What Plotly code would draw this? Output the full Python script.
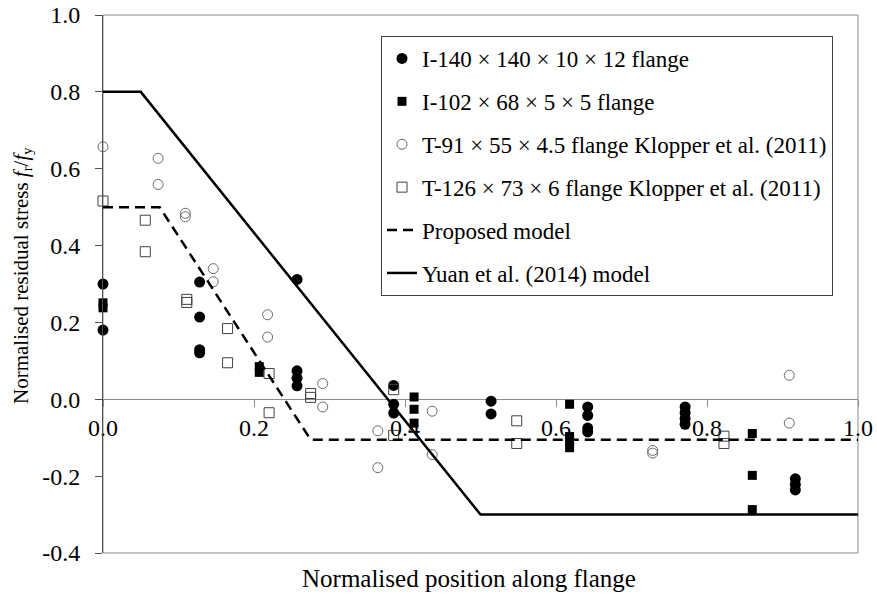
import plotly.graph_objects as go

# Measured residual stresses (normalised position, f_r/f_y)
i140_x = [0, 0, 0.128, 0.128, 0.128, 0.128, 0.257, 0.257, 0.257, 0.257,
          0.385, 0.385, 0.385, 0.514, 0.514, 0.642, 0.642, 0.642, 0.642,
          0.771, 0.771, 0.771, 0.771, 0.917, 0.917, 0.917]
i140_y = [0.30, 0.18, 0.305, 0.214, 0.129, 0.121, 0.312, 0.074, 0.055, 0.035,
          0.036, -0.013, -0.036, -0.005, -0.038, -0.02, -0.042, -0.075, -0.085,
          -0.02, -0.035, -0.05, -0.065, -0.207, -0.222, -0.236]

i102_x = [0, 0, 0.207, 0.207, 0.412, 0.412, 0.412, 0.618, 0.618, 0.618, 0.618,
          0.86, 0.86, 0.86]
i102_y = [0.251, 0.238, 0.085, 0.07, 0.006, -0.026, -0.062, -0.013, -0.097,
          -0.11, -0.126, -0.089, -0.198, -0.287]

t91_x = [0, 0.073, 0.073, 0.109, 0.109, 0.146, 0.146, 0.218, 0.218, 0.291,
         0.291, 0.364, 0.364, 0.436, 0.436, 0.728, 0.728, 0.909, 0.909]
t91_y = [0.657, 0.627, 0.559, 0.484, 0.475, 0.340, 0.306, 0.22, 0.162, 0.041,
         -0.02, -0.082, -0.178, -0.031, -0.144, -0.133, -0.14, 0.0625, -0.062]

t126_x = [0, 0.056, 0.056, 0.111, 0.111, 0.165, 0.165, 0.22, 0.22, 0.275,
          0.275, 0.385, 0.385, 0.548, 0.548, 0.8225, 0.8225]
t126_y = [0.516, 0.466, 0.384, 0.26, 0.252, 0.184, 0.095, 0.067, -0.035,
          0.015, 0.005, 0.025, -0.094, -0.056, -0.115, -0.096, -0.115]

# Residual stress models
proposed_x = [0, 0.075, 0.275, 1.0]
proposed_y = [0.5, 0.5, -0.105, -0.105]
yuan_x = [0, 0.05, 0.5, 1.0]
yuan_y = [0.8, 0.8, -0.3, -0.3]

tick_vals = [0.0, 0.2, 0.4, 0.6, 0.8, 1.0]
x_tick_text = ["0.0", "0.2", "0.4", "0.6", "0.8", "1.0"]
y_tick_vals = [-0.4, -0.2, 0.0, 0.2, 0.4, 0.6, 0.8, 1.0]
y_tick_text = ["-0.4", "-0.2", "0.0", "0.2", "0.4", "0.6", "0.8", "1.0"]

FONT = "Liberation Serif"

fig = go.Figure()

fig.add_trace(go.Scatter(
    x=i140_x, y=i140_y, mode="markers", name="I-140 × 140 × 10 × 12 flange",
    legendgroup="a", cliponaxis=False,
    marker=dict(symbol="circle", size=11, color="black", line=dict(width=0))))
fig.add_trace(go.Scatter(
    x=i102_x, y=i102_y, mode="markers", name="I-102 × 68 × 5 × 5 flange",
    legendgroup="b", cliponaxis=False,
    marker=dict(symbol="square", size=9, color="black", line=dict(width=0))))
fig.add_trace(go.Scatter(
    x=t91_x, y=t91_y, mode="markers",
    name="T-91 × 55 × 4.5 flange Klopper et al. (2011)",
    legendgroup="c", cliponaxis=False,
    marker=dict(symbol="circle-open", size=10, color="#6a6a6a",
                line=dict(width=1))))
fig.add_trace(go.Scatter(
    x=t126_x, y=t126_y, mode="markers",
    name="T-126 × 73 × 6 flange Klopper et al. (2011)",
    legendgroup="d", cliponaxis=False,
    marker=dict(symbol="square-open", size=10, color="#404040",
                line=dict(width=1))))
fig.add_trace(go.Scatter(
    x=proposed_x, y=proposed_y, mode="lines", name="Proposed model",
    legendgroup="e",
    line=dict(color="black", width=2.5, dash="10px,6px")))
fig.add_trace(go.Scatter(
    x=yuan_x, y=yuan_y, mode="lines", name="Yuan et al. (2014) model",
    legendgroup="f",
    line=dict(color="black", width=2.5)))

L, R, T, B = 103, 19, 15, 46
W, H = 877, 599
pw, ph = W - L - R, H - T - B

def px_x(p):
    return (p - L) / pw

def px_y(p):
    return (H - B - p) / ph

fig.update_layout(
    width=W, height=H,
    template="none",
    paper_bgcolor="white", plot_bgcolor="white",
    margin=dict(l=L, r=R, t=T, b=B, pad=0),
    font=dict(family=FONT, size=23, color="black"),
    showlegend=True,
    legend=dict(
        x=px_x(381), y=px_y(36), xanchor="left", yanchor="top",
        bordercolor="#404040", borderwidth=1, bgcolor="white",
        font=dict(family=FONT, size=23, color="black"),
        traceorder="grouped", tracegroupgap=10,
    ),
    xaxis=dict(
        range=[0, 1], anchor="free", position=0.4 / 1.4,
        showline=True, linecolor="#8c8c8c", linewidth=1,
        ticks="outside", ticklen=7, tickcolor="#8c8c8c", tickwidth=1,
        tickvals=tick_vals, ticktext=x_tick_text,
        tickfont=dict(family=FONT, size=24, color="black"),
        showgrid=False, zeroline=False, automargin=False,
        layer="below traces", ticklabelstandoff=0,
    ),
    yaxis=dict(
        range=[-0.4, 1.0],
        showline=True, linecolor="#505050", linewidth=1,
        ticks="outside", ticklen=7, tickcolor="#505050", tickwidth=1,
        tickvals=y_tick_vals, ticktext=y_tick_text,
        tickfont=dict(family=FONT, size=24, color="black"),
        showgrid=False, zeroline=False, automargin=False,
        ticklabelstandoff=10,
    ),
    shapes=[dict(type="rect", xref="paper", yref="paper", x0=0, x1=1,
                 y0=0, y1=1, line=dict(color="#8c8c8c", width=1),
                 layer="below")],
    annotations=[
        dict(text="Normalised position along flange", xref="paper",
             yref="paper", x=px_x(469), y=px_y(578), xanchor="center",
             yanchor="middle", showarrow=False,
             font=dict(family=FONT, size=25, color="black")),
        dict(text="Normalised residual stress <i>f</i><sub>r</sub>/<i>f</i><sub>y</sub>",
             xref="paper", yref="paper", x=px_x(22), y=px_y(276),
             xanchor="center", yanchor="middle", textangle=-90,
             showarrow=False,
             font=dict(family=FONT, size=21, color="black")),
    ],
)

fig.write_html("out.html")
